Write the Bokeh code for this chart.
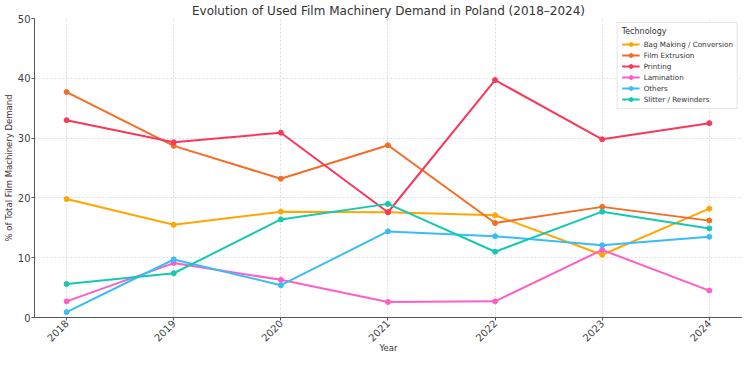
import math
from bokeh.plotting import figure
from bokeh.models import FixedTicker, Range1d
from bokeh.embed import file_html
from bokeh.resources import INLINE

years = [2018, 2019, 2020, 2021, 2022, 2023, 2024]
bag_making = [19.8, 15.5, 17.7, 17.6, 17.1, 10.5, 18.2]
film_extrusion = [37.7, 28.7, 23.2, 28.8, 15.8, 18.5, 16.2]
printing = [33.0, 29.3, 30.9, 17.6, 39.7, 29.8, 32.5]
lamination = [2.7, 9.1, 6.3, 2.6, 2.7, 11.3, 4.5]
others = [0.9, 9.7, 5.4, 14.4, 13.6, 12.1, 13.5]
slitter = [5.6, 7.4, 16.4, 19.0, 11.0, 17.7, 14.9]

series_names = ["Bag Making / Conversion", "Film Extrusion", "Printing",
                "Lamination", "Others", "Slitter / Rewinders"]
series_values = [bag_making, film_extrusion, printing, lamination, others, slitter]
colors = ["#FFA600", "#F46D25", "#F73859", "#FF5DC8", "#38BDF8", "#14C9B1"]
y_ticks = [0, 10, 20, 30, 40, 50]

FONT = "DejaVu Sans"

p = figure(width=742, height=356, output_backend="svg", toolbar_location=None,
           title="Evolution of Used Film Machinery Demand in Poland (2018\u20132024)",
           x_range=Range1d(2017.70, 2024.31), y_range=Range1d(0, 50),
           min_border_left=0, min_border_right=0, min_border_top=0, min_border_bottom=0)

p.title.align = "center"
p.title.text_font = FONT
p.title.text_font_size = "12px"
p.title.text_font_style = "normal"
p.title.text_color = "#333333"
p.title.standoff = 2
p.title.offset = 0

for name, vals, col in zip(series_names, series_values, colors):
    p.line(years, vals, line_color=col, line_width=2, legend_label=name)
    p.scatter(years, vals, marker="circle", size=5, fill_color=col, line_color=col,
              legend_label=name)

p.xaxis.ticker = FixedTicker(ticks=years)
p.yaxis.ticker = FixedTicker(ticks=y_ticks)
p.xaxis.major_label_orientation = math.pi / 4
p.xaxis.axis_label = "Year"
p.yaxis.axis_label = "% of Total Film Machinery Demand"

for ax in (p.xaxis, p.yaxis):
    ax.axis_label_text_font = FONT
    ax.axis_label_text_font_size = "8.5px"
    ax.axis_label_text_font_style = "normal"
    ax.axis_label_text_color = "#333333"
    ax.major_label_text_font = FONT
    ax.major_label_text_font_size = "10px"
    ax.major_label_text_color = "#444444"
    ax.axis_line_color = "#555555"
    ax.major_tick_line_color = "#555555"
    ax.minor_tick_line_color = None
    ax.major_tick_in = 0
    ax.major_tick_out = 3
    ax.axis_label_standoff = 1
    ax.major_label_standoff = 1

p.xaxis.axis_label_standoff = -5
p.xaxis.axis_label_text_line_height = 0.8
p.xaxis.major_label_text_line_height = 0.9

p.xgrid.grid_line_color = "#dddddd"
p.ygrid.grid_line_color = "#dddddd"
p.xgrid.grid_line_dash = "2 2"
p.ygrid.grid_line_dash = "2 2"
p.outline_line_color = None

lg = p.legend[0]
lg.title = "Technology"
lg.title_text_font = FONT
lg.title_text_font_size = "8px"
lg.title_text_font_style = "normal"
lg.title_text_color = "#333333"
lg.label_text_font = FONT
lg.label_text_font_size = "7.2px"
lg.label_text_color = "#333333"
lg.location = "top_right"
lg.glyph_width = 18
lg.glyph_height = 10
lg.label_height = 10
lg.label_standoff = 4
lg.spacing = 1
lg.padding = 4
lg.margin = 4
lg.border_line_color = "#cccccc"
lg.background_fill_alpha = 0.9
lg.title_standoff = 3

open("out.html", "w").write(file_html(p, INLINE))
